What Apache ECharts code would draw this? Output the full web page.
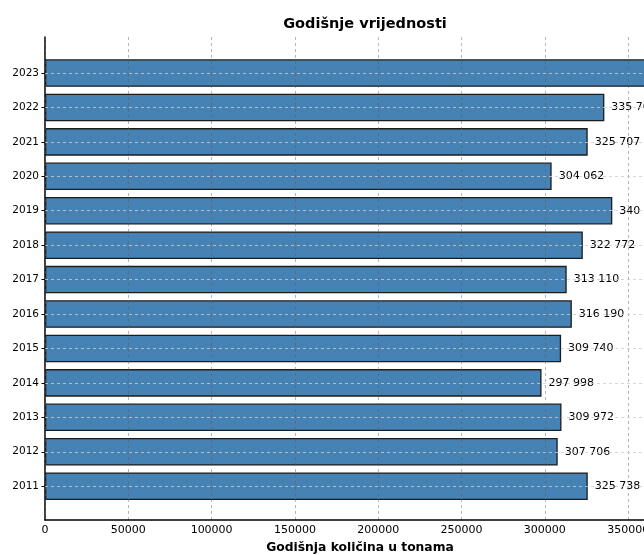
<!DOCTYPE html>
<html>
<head>
<meta charset="utf-8">
<script src="https://cdn.jsdelivr.net/npm/echarts@6/dist/echarts.min.js"></script>
<style>
html,body{margin:0;padding:0;background:#fff;overflow:hidden;width:644px;height:555px;}
#chart{width:675px;height:555px;}
</style>
</head>
<body>
<div id="chart"></div>
<script>
const categories = ['2011','2012','2013','2014','2015','2016','2017','2018','2019','2020','2021','2022','2023'];
const values = [325738, 307706, 309972, 297998, 309740, 316190, 313110, 322772, 340470, 304062, 325707, 335700, 362000];
const xTickInterval = 50000;
const xMax = 378100;
const titleText = 'Godišnje vrijednosti';
const xAxisName = 'Godišnja količina u tonama';

function fmt(v){ return String(v).replace(/\B(?=(\d{3})+(?!\d))/g, ' '); }

const font = 'DejaVu Sans';
const chart = echarts.init(document.getElementById('chart'), null, {renderer:'canvas'});
chart.setOption({
  animation: false,
  backgroundColor: '#fff',
  title: {
    text: titleText,
    left: 360, top: 12, textAlign: 'center',
    textStyle: {fontFamily: font, fontSize: 14.5, fontWeight: 'bold', color: '#000'}
  },
  grid: [
    {left: 45, right: 0, top: 37, bottom: 35, containLabel: false, outerBoundsMode: 'none'},
    {left: 45, right: 0, top: 55.8, bottom: 51.6, containLabel: false, outerBoundsMode: 'none'}
  ],
  xAxis: [
    {
      gridIndex: 0, type: 'value', min: 0, max: xMax, interval: xTickInterval, z: 3,
      axisLine: {show: true, lineStyle: {color: '#000', width: 1.5}},
      axisTick: {show: false},
      axisLabel: {color: '#000', fontFamily: font, fontSize: 11, margin: 5, showMaxLabel: false,
                  formatter: v => String(v)},
      splitLine: {show: true, lineStyle: {color: 'rgba(90,90,90,0.45)', type: [3,3], width: 1}},
      name: xAxisName, nameLocation: 'middle', nameGap: 22,
      nameTextStyle: {fontFamily: font, fontSize: 12.3, fontWeight: 'bold', color: '#000'}
    },
    {
      gridIndex: 1, type: 'value', min: 0, max: xMax, show: false
    }
  ],
  yAxis: [
    {
      gridIndex: 0, type: 'value', min: 0, max: 1,
      axisLine: {show: true, lineStyle: {color: '#000', width: 1.5}},
      axisTick: {show: false}, axisLabel: {show: false}, splitLine: {show: false}
    },
    {
      gridIndex: 1, type: 'category', data: categories,
      axisLine: {show: false},
      axisTick: {show: true, length: 3.5, alignWithLabel: true, lineStyle: {color: '#000', width: 1}},
      axisLabel: {color: '#000', fontFamily: font, fontSize: 10.5, margin: 6},
      splitLine: {show: false}
    }
  ],
  series: [{
    type: 'bar',
    xAxisIndex: 1, yAxisIndex: 1,
    data: values,
    barCategoryGap: '20%',
    itemStyle: {color: '#4682b4', borderColor: '#1c1c1c', borderWidth: 1.3},
    label: {
      show: true, position: 'right', distance: 7,
      color: '#000', fontFamily: font, fontSize: 11,
      formatter: p => fmt(p.value)
    },
    markLine: {
      silent: true, symbol: 'none', z: 5,
      label: {show: false},
      lineStyle: {color: 'rgba(205,205,205,0.8)', type: [3,3], width: 1},
      data: categories.map(c => ({yAxis: c}))
    }
  }]
});
</script>
</body>
</html>
